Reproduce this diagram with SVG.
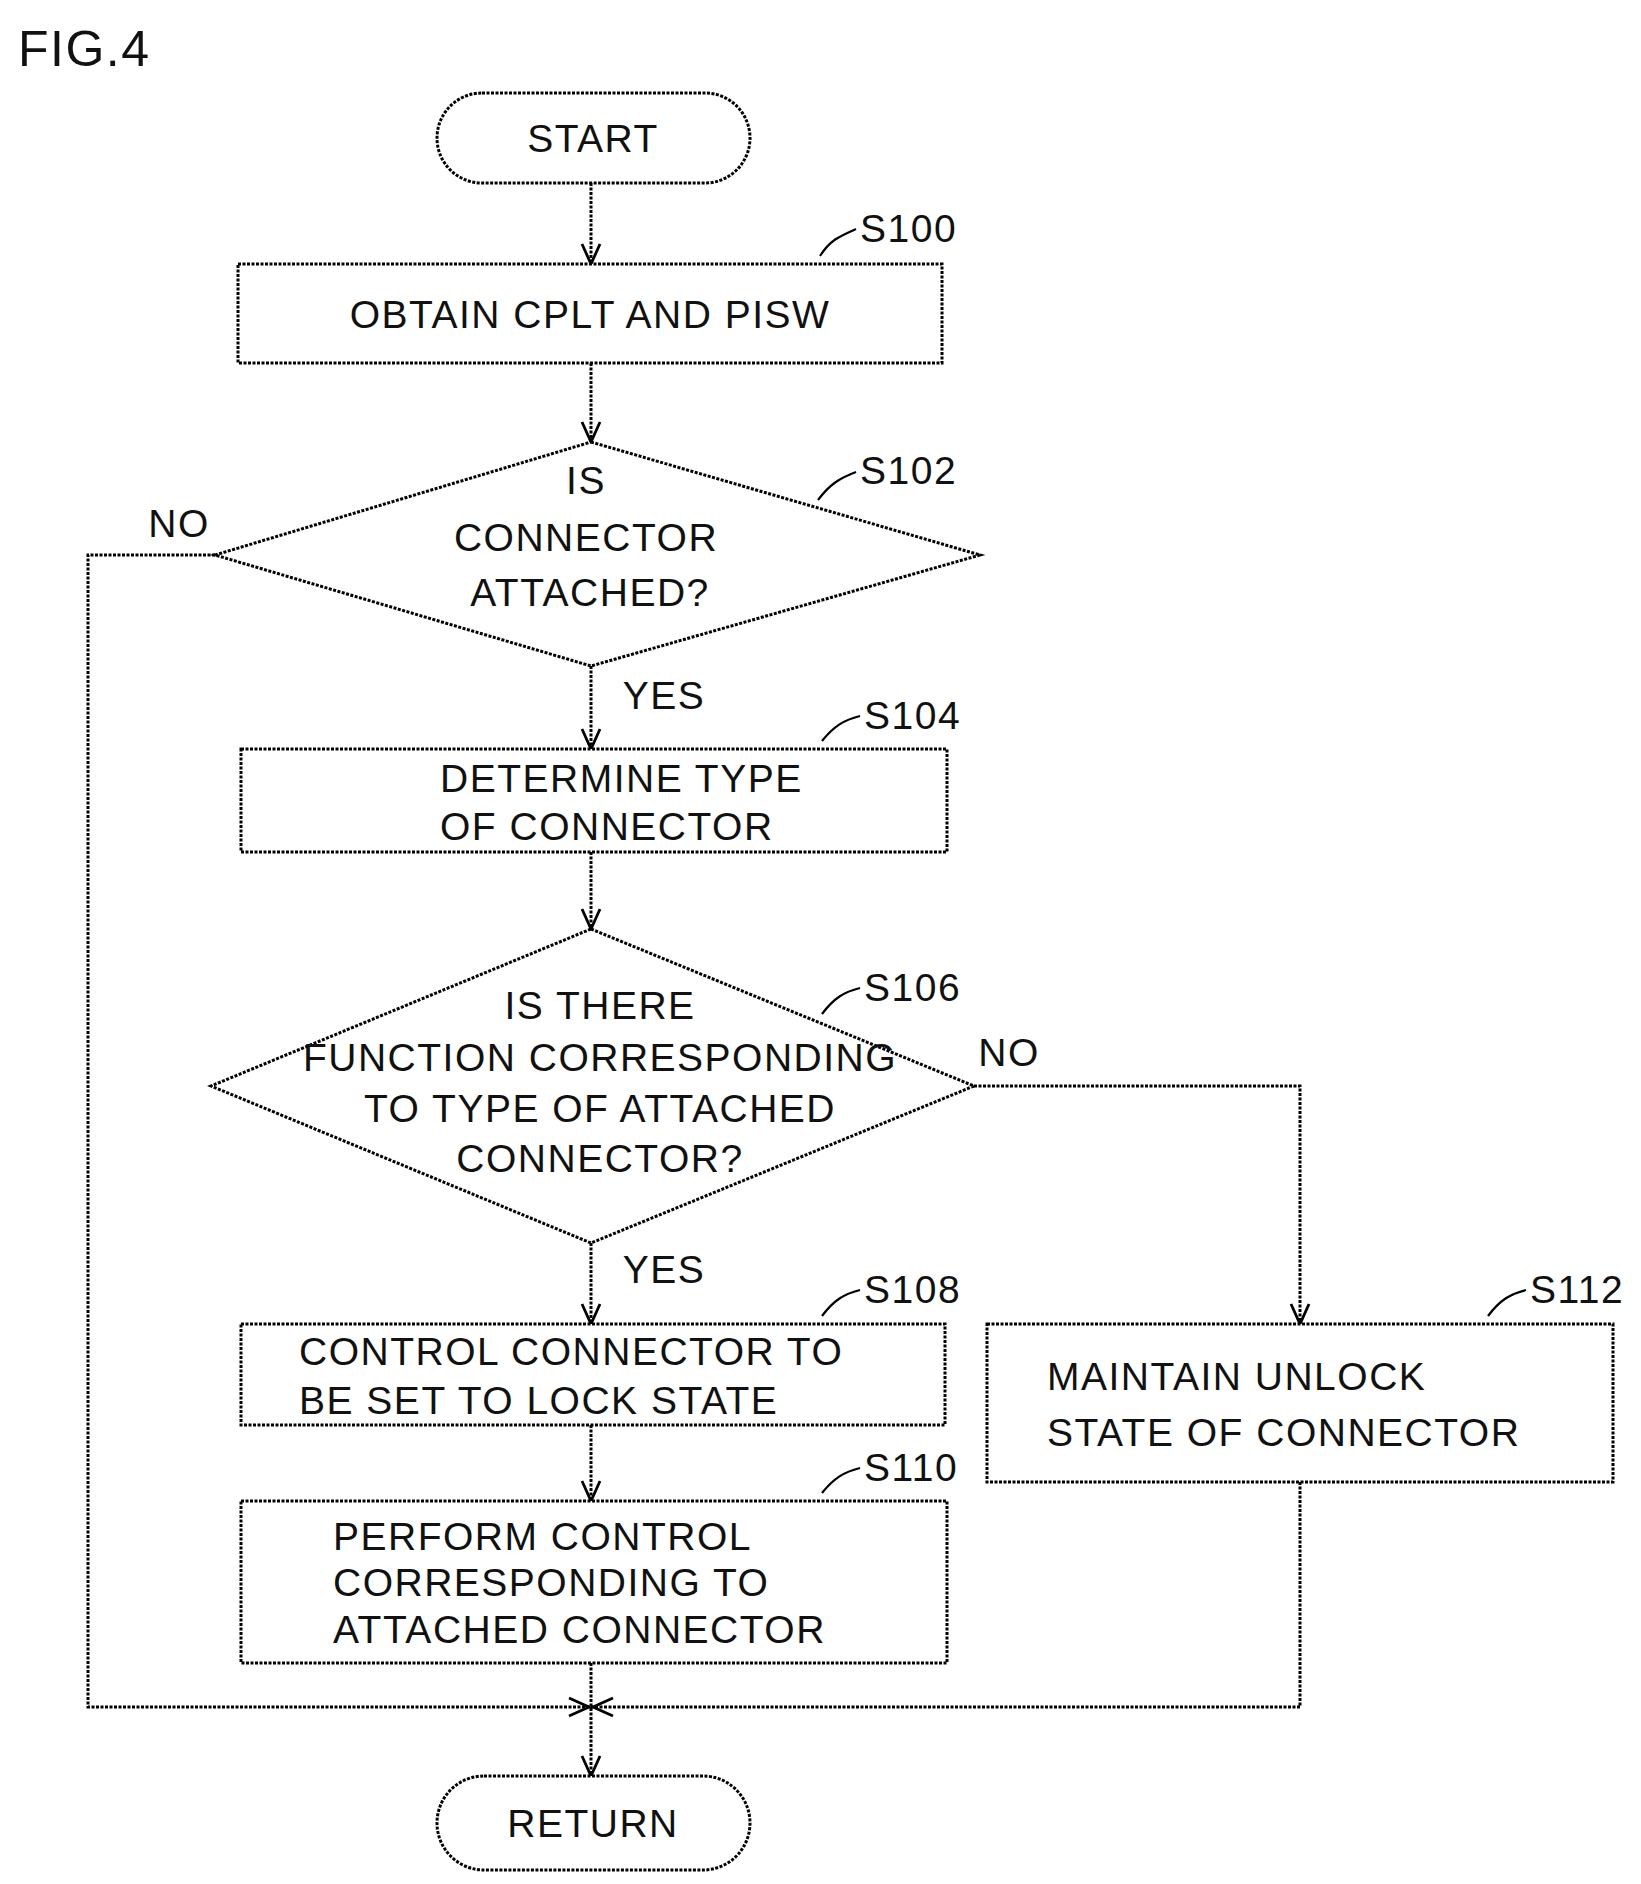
<svg xmlns="http://www.w3.org/2000/svg" width="1641" height="1884" viewBox="0 0 1641 1884">
<defs>
<path id="ad" d="M-9,-20 L0,0 L9,-20" fill="none" stroke="#000" stroke-width="2.8"/>
</defs>
<style>
.s{fill:#fff;stroke:#000;stroke-width:3;stroke-dasharray:3 1.5}
.c{fill:none;stroke:#000;stroke-width:3;stroke-dasharray:3 1.5}
.l{fill:none;stroke:#000;stroke-width:2.2}
text{font-family:"Liberation Sans",Arial,sans-serif;font-size:39px;fill:#111;letter-spacing:1.5px}
.m{text-anchor:middle}
</style>
<rect width="1641" height="1884" fill="#fff"/>
<text x="18" y="66" style="font-size:50px">FIG.4</text>
<g id="connectors">
<path class="c" d="M591,183 V263"/>
<path class="c" d="M591,363 V441"/>
<path class="c" d="M591,666 V748"/>
<path class="c" d="M591,852 V928"/>
<path class="c" d="M591,1243 V1323"/>
<path class="c" d="M591,1425 V1500"/>
<path class="c" d="M591,1663 V1775"/>
<path class="c" d="M215,555 H88 V1707 H591"/>
<path class="c" d="M974,1086 H1300 V1323"/>
<path class="c" d="M1300,1482 V1707 H591"/>
<use href="#ad" transform="translate(591,264)"/>
<use href="#ad" transform="translate(591,442)"/>
<use href="#ad" transform="translate(591,749)"/>
<use href="#ad" transform="translate(591,929)"/>
<use href="#ad" transform="translate(591,1324)"/>
<use href="#ad" transform="translate(591,1501)"/>
<use href="#ad" transform="translate(591,1776)"/>
<use href="#ad" transform="translate(1300,1324)"/>
<use href="#ad" transform="translate(589,1707) rotate(-90)"/>
<use href="#ad" transform="translate(593,1707) rotate(90)"/>
<text x="179" y="537" class="m">NO</text>
<text x="664" y="709" class="m">YES</text>
<text x="1009" y="1066" class="m">NO</text>
<text x="664" y="1283" class="m">YES</text>
</g>
<g id="start"><rect class="s" x="437" y="93" width="313" height="90" rx="45"/><text x="593" y="152" class="m">START</text></g>
<g id="S100"><rect class="s" x="238" y="264" width="704" height="99"/><text x="590" y="328" class="m">OBTAIN CPLT AND PISW</text>
<path class="l" d="M820,256 C830,240 840,236 856,229"/><text x="860" y="242">S100</text></g>
<g id="S102"><polygon class="s" points="591,442 980,555 591,666 215,555"/>
<text x="586" y="494" class="m">IS</text><text x="586" y="551" class="m">CONNECTOR</text><text x="590" y="606" class="m">ATTACHED?</text>
<path class="l" d="M818,500 C830,484 840,478 856,472"/><text x="860" y="484">S102</text></g>
<g id="S104"><rect class="s" x="241" y="749" width="706" height="103"/><text x="440" y="792">DETERMINE TYPE</text><text x="440" y="840">OF CONNECTOR</text>
<path class="l" d="M822,741 C834,726 844,720 860,716"/><text x="864" y="729">S104</text></g>
<g id="S106"><polygon class="s" points="591,929 974,1086 591,1243 211,1086"/>
<text x="600" y="1019" class="m">IS THERE</text><text x="600" y="1071" class="m">FUNCTION CORRESPONDING</text><text x="600" y="1122" class="m">TO TYPE OF ATTACHED</text><text x="600" y="1172" class="m">CONNECTOR?</text>
<path class="l" d="M822,1014 C834,998 844,992 860,988"/><text x="864" y="1001">S106</text></g>
<g id="S108"><rect class="s" x="241" y="1324" width="704" height="101"/><text x="299" y="1365">CONTROL CONNECTOR TO</text><text x="299" y="1414">BE SET TO LOCK STATE</text>
<path class="l" d="M822,1316 C834,1300 844,1294 860,1290"/><text x="864" y="1303">S108</text></g>
<g id="S110"><rect class="s" x="241" y="1501" width="706" height="162"/><text x="333" y="1550">PERFORM CONTROL</text><text x="333" y="1596">CORRESPONDING TO</text><text x="333" y="1643">ATTACHED CONNECTOR</text>
<path class="l" d="M822,1493 C834,1478 844,1472 860,1468"/><text x="864" y="1481">S110</text></g>
<g id="S112"><rect class="s" x="987" y="1324" width="626" height="158"/><text x="1047" y="1390">MAINTAIN UNLOCK</text><text x="1047" y="1446">STATE OF CONNECTOR</text>
<path class="l" d="M1488,1316 C1500,1300 1510,1294 1526,1290"/><text x="1530" y="1303">S112</text></g>
<g id="return"><rect class="s" x="437" y="1776" width="313" height="94" rx="47"/><text x="593" y="1837" class="m">RETURN</text></g>
</svg>
